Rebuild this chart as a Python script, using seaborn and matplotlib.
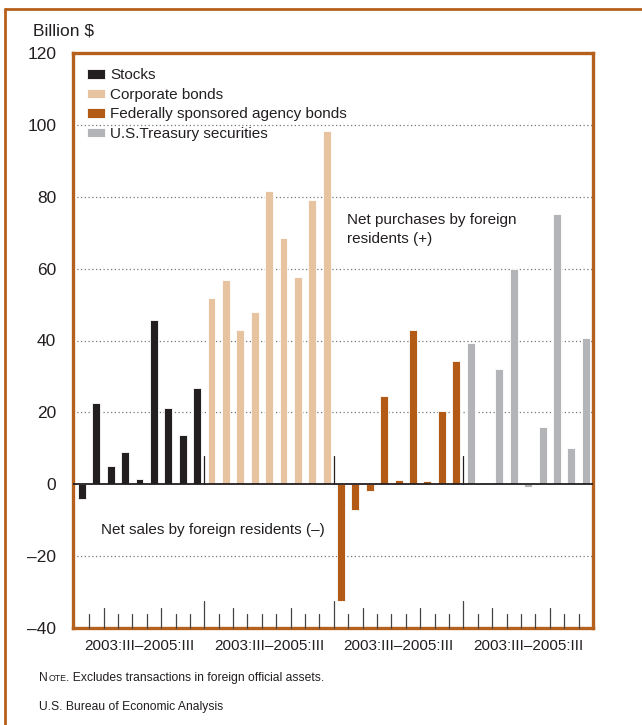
import matplotlib
matplotlib.use("Agg")
import matplotlib.pyplot as plt
import seaborn as sns
import pandas as pd
import numpy as np
from matplotlib.lines import Line2D

quarters = ["2003:III", "2003:IV", "2004:I", "2004:II", "2004:III", "2004:IV",
            "2005:I", "2005:II", "2005:III"]
series = ["Stocks", "Corporate bonds", "Federally sponsored agency bonds",
          "U.S.Treasury securities"]
stocks = [-4, 22.7, 5, 9, 1.5, 45.7, 21.2, 13.8, 26.7]
corporate = [51.8, 56.9, 42.8, 48, 81.6, 68.6, 57.6, 79.2, 98.4]
agency = [-32.5, -7.2, -1.8, 24.5, 1.3, 43, 1.0, 20.5, 34.3]
treasury = [39.2, 0.3, 32, 60, -0.8, 16, 75.3, 10.2, 40.8]
colors = ["#231f20", "#e8c3a0", "#b35a16", "#b3b4b8"]
group_label = "2003:III\u20132005:III"
yticks = [120, 100, 80, 60, 40, 20, 0, -20, -40]

rows = []
for s, vals in zip(series, [stocks, corporate, agency, treasury]):
    for q, v in zip(quarters, vals):
        rows.append({"slot": f"{s} {q}", "series": s, "value": v})
df = pd.DataFrame(rows)

sns.set_style("white")
plt.rcParams['font.family'] = ['Liberation Sans', 'DejaVu Sans']
ORANGE = "#b5601c"
TXT = "#231f20"

fig = plt.figure(figsize=(6.42, 7.25), dpi=100)
ax = fig.add_axes([73/642, 1-628/725, (593-73)/642, (628-53)/725])

sns.barplot(data=df, x="slot", y="value", hue="series", order=list(df["slot"]),
            hue_order=series, palette=dict(zip(series, colors)), dodge=False,
            width=0.55, edgecolor="white", linewidth=0.6, saturation=1,
            ax=ax, legend=True)

n = len(df)
ax.set_xlim(-0.62, n - 0.5)
ax.set_ylim(-40, 120)

# grid
for yv in [100, 80, 60, 40, 20, -20, 120]:
    ax.axhline(yv, color="#777777", lw=0.9, ls=(0, (1, 2)), zorder=0)
ax.axhline(0, color=TXT, lw=1.3, zorder=3)

# group separators
ng = len(quarters)
for g in range(1, len(series)):
    ax.plot([g*ng - 0.5, g*ng - 0.5], [0, 8], color=TXT, lw=0.9, zorder=3)

# bottom ticks
for i in range(n - 1):
    xb = i + 0.5
    k = i % ng
    if k == ng - 1:
        h = 7.5
    elif k in (1, 5):
        h = 5.6
    else:
        h = 3.9
    ax.plot([xb, xb], [-40, -40 + h], color="#444444", lw=0.9, zorder=3,
            clip_on=False)

ax.set_xticks([g*ng + (ng-1)/2 for g in range(len(series))])
ax.set_xticklabels([group_label]*len(series), fontsize=11, color=TXT)
ax.tick_params(axis="x", length=0, pad=8)
ax.set_yticks(yticks)
ax.set_yticklabels([str(v).replace("-", "\u2013") for v in yticks], fontsize=12.5,
                   color=TXT)
ax.tick_params(axis="y", length=0, pad=12)
ax.set_xlabel("")
ax.set_ylabel("")

for sp in ax.spines.values():
    sp.set_visible(True)
    sp.set_color(ORANGE)
    sp.set_linewidth(2.4)

leg = ax.legend(loc="upper left", bbox_to_anchor=(0.0, 0.997), frameon=False,
                handlelength=1.2, handleheight=0.6,
                handletextpad=0.35, labelspacing=0.36, borderaxespad=0.5,
                prop={'size': 11})
for t in leg.get_texts():
    t.set_color(TXT)

ax.text(18.4, 70.8, "Net purchases by foreign\nresidents (+)", fontsize=11,
        color=TXT, ha="left", va="center", linespacing=1.45)
ax.text(1.35, -12.7, "Net sales by foreign residents (\u2013)", fontsize=11,
        color=TXT, ha="left", va="center")

fig.text(33/642, 1-31/725, "Billion $", fontsize=12.5, color=TXT, ha="left",
         va="center")

# Note line with small caps "Note"
fig.canvas.draw()
r = fig.canvas.get_renderer()
y_note = 1 - 681/725
t1 = fig.text(39/642, y_note, "N", fontsize=8.7, color=TXT, ha="left", va="baseline")
x = t1.get_window_extent(r).x1 / fig.bbox.width
t2 = fig.text(x + 0.5/642, y_note, "OTE", fontsize=6.3, color=TXT, ha="left",
              va="baseline")
x = t2.get_window_extent(r).x1 / fig.bbox.width
fig.text(x, y_note, ". Excludes transactions in foreign official assets.",
         fontsize=8.7, color=TXT, ha="left", va="baseline")
fig.text(39/642, 1 - 710/725, "U.S. Bureau of Economic Analysis", fontsize=8.7,
         color=TXT, ha="left", va="baseline")

# outer border
fig.add_artist(Line2D([5/642, 1], [1-9/725, 1-9/725], color=ORANGE, lw=2,
                      transform=fig.transFigure))
fig.add_artist(Line2D([5/642, 5/642], [0, 1-9/725], color=ORANGE, lw=2,
                      transform=fig.transFigure))

fig.savefig("out.png", dpi=100)
